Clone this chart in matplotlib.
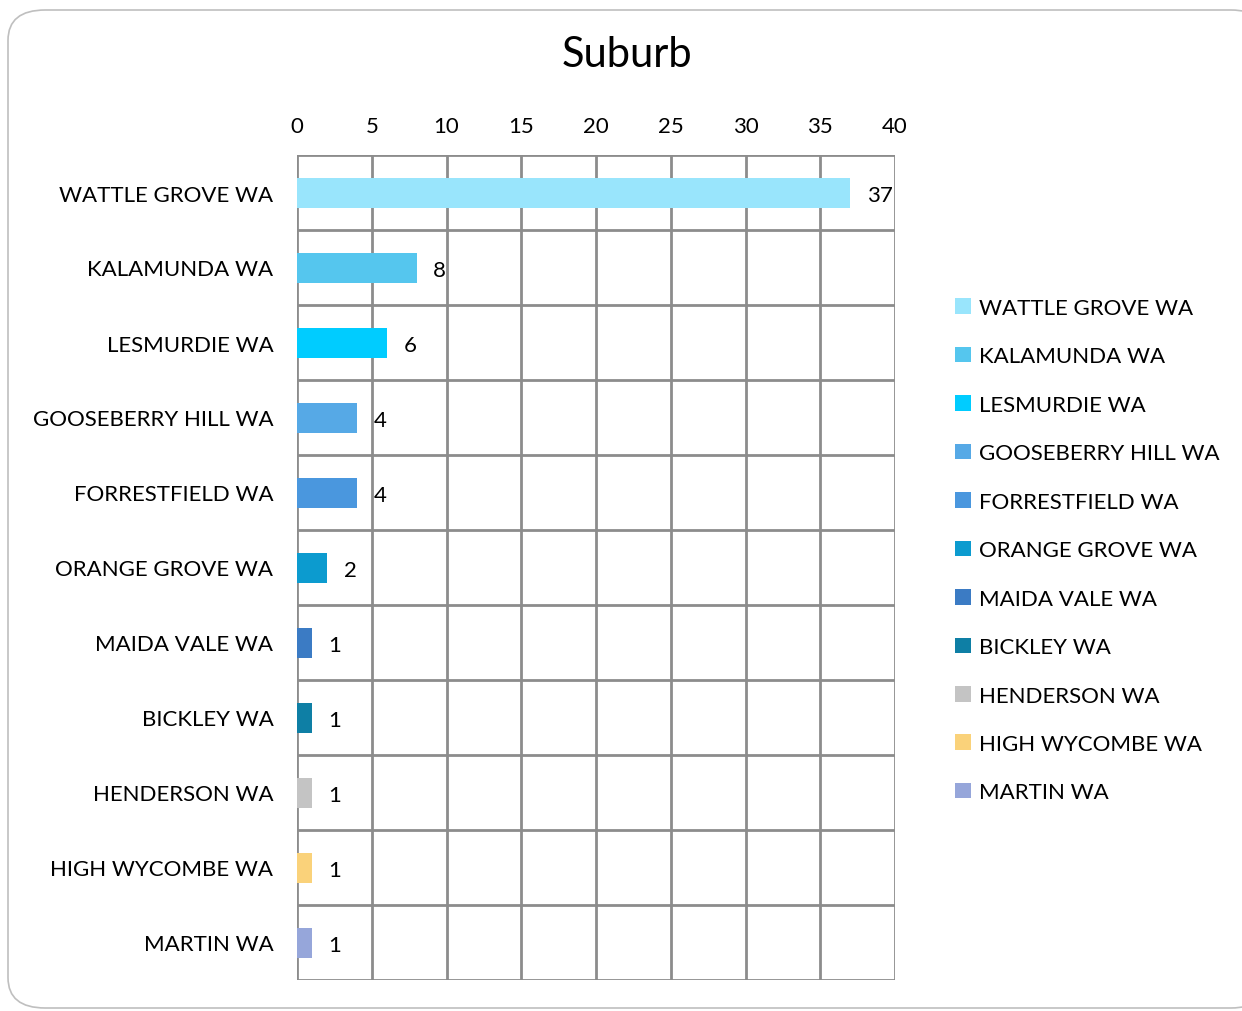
import numpy as np
import matplotlib.pyplot as plt
from matplotlib.patches import FancyBboxPatch, Patch

plt.rcParams['font.family'] = ['Lato', 'DejaVu Sans']

suburbs = ['WATTLE GROVE WA', 'KALAMUNDA WA', 'LESMURDIE WA', 'GOOSEBERRY HILL WA',
           'FORRESTFIELD WA', 'ORANGE GROVE WA', 'MAIDA VALE WA', 'BICKLEY WA',
           'HENDERSON WA', 'HIGH WYCOMBE WA', 'MARTIN WA']
counts = [37, 8, 6, 4, 4, 2, 1, 1, 1, 1, 1]
colours = ['#99E5FC', '#55C6EE', '#00CCFF', '#56A9E6', '#4A97DE', '#0C9BCF',
           '#3B7BC4', '#0E7FA5', '#C4C4C4', '#FAD27A', '#96A6DA']
xticks = [0, 5, 10, 15, 20, 25, 30, 35, 40]

fig = plt.figure(figsize=(12.42, 10.12), dpi=100)

# rounded frame around the whole chart
frame = FancyBboxPatch((8 / 1242, 3 / 1012), 1260 / 1242, 998 / 1012,
                       boxstyle='round,pad=0,rounding_size=0.03',
                       transform=fig.transFigure, facecolor='white',
                       edgecolor='#BFBFBF', linewidth=1.2, zorder=-10)
fig.add_artist(frame)

ax = fig.add_axes([297 / 1242, 31 / 1012, 598 / 1242, 825 / 1012])
ax.set_facecolor('none')

y = np.arange(len(suburbs))
ax.barh(y, counts, height=0.4, color=colours, zorder=3)

for yi, v in zip(y, counts):
    ax.annotate(str(v), (v, yi), xytext=(12, -2), textcoords='offset points',
                va='center', ha='left', fontsize=16, color='black')

ax.set_xlim(0, 40)
ax.set_ylim(len(suburbs) - 0.5, -0.5)
ax.set_xticks(xticks)
ax.xaxis.tick_top()
ax.set_yticks(y)
ax.set_yticklabels(suburbs)
ax.tick_params(axis='y', length=0, labelsize=16, pad=17)
ax.tick_params(axis='x', length=0, labelsize=16, pad=14)

# grid: vertical at ticks, horizontal between categories
for xv in xticks:
    ax.axvline(xv, color='#8C8C8C', linewidth=2, zorder=1)
for yb in np.arange(-0.5, len(suburbs), 1):
    ax.axhline(yb, color='#8C8C8C', linewidth=2, zorder=1)
for s in ax.spines.values():
    s.set_visible(False)

fig.text(627 / 1242, 1 - 55 / 1012, 'Suburb', ha='center', va='center', fontsize=30)

handles = [Patch(facecolor=c, edgecolor='none') for c in colours]
fig.legend(handles, suburbs, loc='upper left', bbox_to_anchor=(935 / 1242, 1 - 279 / 1012),
           frameon=False, fontsize=16, handlelength=0.7, handleheight=0.7,
           handletextpad=0.4, labelspacing=1.28)

fig.savefig('out.png', dpi=100)
